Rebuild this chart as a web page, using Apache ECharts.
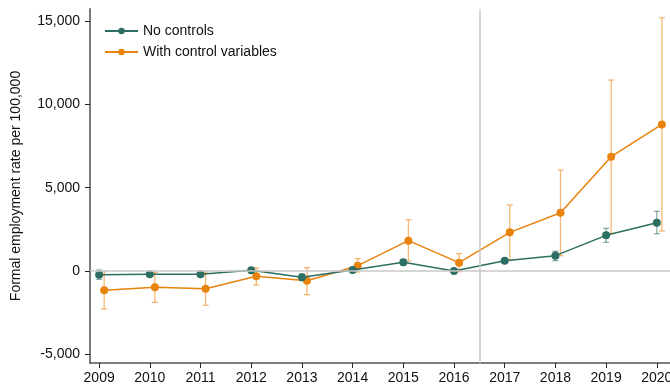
<!DOCTYPE html>
<html>
<head>
<meta charset="utf-8">
<script src="https://cdn.jsdelivr.net/npm/echarts@6/dist/echarts.min.js"></script>
<style>
  html, body { margin: 0; padding: 0; background: #fff; }
  #chart { width: 670px; height: 387px; }
</style>
</head>
<body>
<div id="chart"></div>
<script>
// Event-study estimates, formal employment rate per 100,000
const years = [2009, 2010, 2011, 2012, 2013, 2014, 2015, 2016, 2017, 2018, 2019, 2020];

const noControls   = [-220, -200, -190, 40, -380, 60, 520, 0, 620, 920, 2140, 2900];
const noControlsLo = [-500, -300, -280, -50, -580, -60, 380, -100, 500, 620, 1720, 2240];
const noControlsHi = [60, -100, -100, 130, -180, 180, 660, 100, 740, 1180, 2560, 3580];

const withControls   = [-1160, -980, -1060, -320, -580, 320, 1820, 500, 2320, 3500, 6860, 8800];
const withControlsLo = [-2280, -1880, -2060, -840, -1420, -60, 600, -40, 660, 920, 2260, 2400];
const withControlsHi = [-40, -80, -60, 180, 200, 740, 3080, 1040, 3960, 6060, 11460, 15200];

const yTicks = [-5000, 0, 5000, 10000, 15000];
const policyYear = 2016.5;

const GREEN = '#2d6e62';
const ORANGE = '#e8830b';
const FONT = '"Liberation Sans", Arial, sans-serif';

// horizontal dodge so the two series' markers don't overlap
const dodge = { none: 0, ctrl: 0.1 };

const pts = (vals, off) => years.map((y, i) => [y + off, vals[i]]);
const bars = (lo, hi, off) => years.map((y, i) => [y + off, lo[i], hi[i]]);

function errorBars(color) {
  return function (params, api) {
    const x = api.value(0);
    const pLo = api.coord([x, api.value(1)]);
    const pHi = api.coord([x, api.value(2)]);
    const hw = 3;
    const st = { stroke: color, lineWidth: 1.3 };
    return {
      type: 'group',
      children: [
        { type: 'line', shape: { x1: pLo[0], y1: pLo[1], x2: pHi[0], y2: pHi[1] }, style: st },
        { type: 'line', shape: { x1: pLo[0] - hw, y1: pLo[1], x2: pLo[0] + hw, y2: pLo[1] }, style: st },
        { type: 'line', shape: { x1: pHi[0] - hw, y1: pHi[1], x2: pHi[0] + hw, y2: pHi[1] }, style: st }
      ]
    };
  };
}

const chart = echarts.init(document.getElementById('chart'), null, { renderer: 'canvas' });

chart.setOption({
  animation: false,
  textStyle: { fontFamily: FONT },
  grid: { left: 90, right: 0, top: 9, bottom: 24, outerBoundsMode: 'none', containLabel: false },
  legend: {
    orient: 'vertical',
    left: 99,
    top: 19,
    itemWidth: 33,
    itemHeight: 8,
    itemGap: 7,
    textStyle: { fontFamily: FONT, fontSize: 14, color: '#111', lineHeight: 14 },
    data: ['No controls', 'With control variables']
  },
  xAxis: {
    type: 'value',
    min: 2008.82,
    max: 2020.26,
    splitLine: { show: false },
    axisLine: { show: true, onZero: false, lineStyle: { color: '#555', width: 1.5 } },
    axisTick: { show: true, length: 5, lineStyle: { color: '#222' }, customValues: years },
    axisLabel: { color: '#111', fontSize: 14, margin: 8, fontFamily: FONT, customValues: years,
                 hideOverlap: false, formatter: v => String(v) }
  },
  yAxis: {
    type: 'value',
    min: -5522,
    max: 15726,
    name: 'Formal employment rate per 100,000',
    nameLocation: 'middle',
    nameGap: 67,
    nameTextStyle: { fontSize: 14, color: '#111', fontFamily: FONT },
    splitLine: { show: false },
    axisLine: { show: true, onZero: false, lineStyle: { color: '#7a7a7a', width: 2 } },
    axisTick: { show: true, length: 5, lineStyle: { color: '#222' }, customValues: yTicks },
    axisLabel: { color: '#111', fontSize: 14, margin: 10, fontFamily: FONT, customValues: yTicks,
                 formatter: v => v.toLocaleString('en-US') }
  },
  series: [
    {
      name: 'refs',
      type: 'line',
      data: [],
      silent: true,
      markLine: {
        silent: true,
        symbol: 'none',
        label: { show: false },
        lineStyle: { color: '#c9c9c9', width: 1.5, type: 'solid' },
        data: [{ yAxis: 0 }, { xAxis: policyYear }]
      },
      z: 1
    },
    {
      name: 'ciNone',
      type: 'custom',
      renderItem: errorBars('rgba(45,110,98,0.55)'),
      data: bars(noControlsLo, noControlsHi, dodge.none),
      encode: { x: 0, y: [1, 2] },
      z: 2
    },
    {
      name: 'ciCtrl',
      type: 'custom',
      renderItem: errorBars('rgba(242,160,70,0.75)'),
      data: bars(withControlsLo, withControlsHi, dodge.ctrl),
      encode: { x: 0, y: [1, 2] },
      z: 2
    },
    {
      name: 'With control variables',
      type: 'line',
      data: pts(withControls, dodge.ctrl),
      color: ORANGE,
      symbol: 'circle',
      symbolSize: 8,
      lineStyle: { width: 1.5, color: ORANGE },
      itemStyle: { color: ORANGE },
      z: 3
    },
    {
      name: 'No controls',
      type: 'line',
      data: pts(noControls, dodge.none),
      color: GREEN,
      symbol: 'circle',
      symbolSize: 8,
      lineStyle: { width: 1.5, color: GREEN },
      itemStyle: { color: GREEN },
      z: 4
    }
  ]
});
</script>
</body>
</html>
